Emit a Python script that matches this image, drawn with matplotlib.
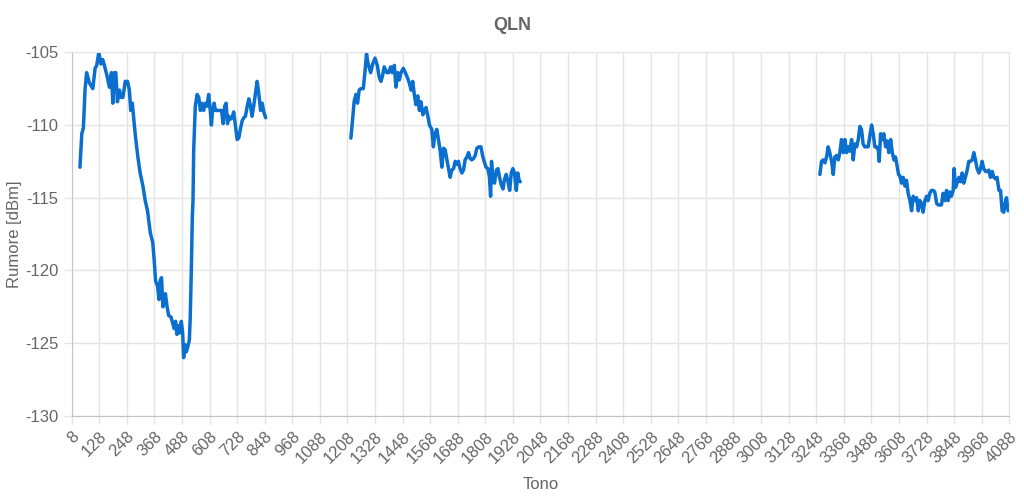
import numpy as np
import matplotlib
matplotlib.use("Agg")
import matplotlib.pyplot as plt

plt.rcParams['font.family'] = ['Liberation Sans', 'DejaVu Sans']
plt.rcParams['axes.unicode_minus'] = False

# dati: tre tratti separati (tono, rumore dBm)
tones_1 = [44, 52, 59, 66, 73, 85, 100, 110, 117, 126, 135, 143, 152, 163, 172, 181, 187,
           194, 200, 207, 216, 222, 231, 241, 251, 259, 265, 272, 280, 287, 296, 306, 318,
           328, 338, 350, 361, 367, 373, 382, 388, 393, 399, 405, 411, 416, 423, 430, 440,
           447, 454, 460, 466, 472, 478, 485, 491, 495, 501, 507, 514, 520, 524, 529, 533,
           536, 539, 546, 554, 561, 568, 575, 582, 590, 597, 604, 611, 616, 621, 628, 633,
           642, 651, 660, 667, 674, 680, 686, 692, 699, 706, 713, 721, 728, 735, 742, 750,
           757, 764, 772, 779, 786, 793, 800, 808, 815, 822, 830, 837, 844, 852]
qln_1 = [-112.9, -110.6, -110.2, -107.6, -106.4, -107.1, -107.5, -106.1, -105.9, -105.0,
         -105.8, -105.5, -106.0, -106.7, -107.4, -106.4, -108.5, -106.4, -106.4, -108.4,
         -107.6, -108.1, -108.1, -107.0, -107.0, -107.6, -109.0, -108.5, -109.9, -111.0,
         -112.2, -113.3, -114.2, -115.2, -115.9, -117.4, -118.1, -119.3, -120.7, -121.1,
         -122.0, -120.7, -120.5, -122.5, -121.8, -121.6, -122.5, -123.1, -123.2, -123.6,
         -124.0, -123.5, -124.4, -123.8, -124.3, -123.5, -124.3, -126.0, -125.1, -125.6,
         -125.2, -124.8, -123.2, -119.7, -116.3, -115.2, -111.7, -108.7, -107.9, -108.1,
         -109.0, -108.5, -109.0, -108.5, -108.7, -107.9, -109.0, -110.0, -109.0, -108.5,
         -109.0, -109.0, -109.0, -109.0, -109.9, -108.7, -108.5, -109.9, -109.4, -109.6,
         -109.5, -109.1, -110.1, -111.0, -110.9, -110.3, -109.7, -109.5, -109.4, -108.7,
         -108.2, -108.7, -109.4, -108.7, -107.8, -107.0, -107.8, -109.0, -108.5, -109.1,
         -109.5]

tones_2 = [1223, 1230, 1237, 1245, 1252, 1259, 1266, 1277, 1284, 1291, 1298, 1309, 1318,
           1328, 1338, 1346, 1354, 1361, 1368, 1379, 1387, 1396, 1403, 1412, 1419, 1427,
           1434, 1441, 1451, 1460, 1468, 1477, 1485, 1492, 1499, 1506, 1514, 1521, 1528,
           1536, 1543, 1550, 1558, 1565, 1575, 1582, 1589, 1597, 1604, 1611, 1619, 1626,
           1633, 1641, 1648, 1655, 1662, 1670, 1677, 1684, 1691, 1698, 1706, 1713, 1720,
           1728, 1735, 1742, 1749, 1757, 1764, 1771, 1780, 1789, 1796, 1803, 1811, 1819,
           1826, 1831, 1835, 1841, 1848, 1856, 1863, 1870, 1877, 1885, 1892, 1899, 1907,
           1914, 1921, 1928, 1935, 1943, 1949, 1955, 1960]
qln_2 = [-110.9, -109.7, -108.4, -107.9, -108.5, -107.6, -107.5, -107.5, -106.4, -105.1,
         -105.8, -106.4, -105.8, -105.4, -105.9, -106.7, -107.0, -106.6, -106.0, -106.4,
         -106.4, -106.0, -106.4, -105.9, -107.4, -106.4, -106.9, -106.4, -106.1, -106.4,
         -106.7, -107.1, -107.6, -107.0, -107.9, -108.6, -108.0, -109.0, -108.4, -109.3,
         -109.0, -108.8, -109.4, -110.0, -110.3, -111.5, -110.6, -110.3, -111.0, -111.7,
         -112.9, -111.6, -111.7, -112.4, -113.0, -113.6, -113.1, -113.0, -112.5, -112.7,
         -112.5, -113.0, -113.3, -113.1, -112.4, -112.2, -111.9, -112.3, -112.4, -112.3,
         -112.1, -111.6, -111.5, -111.5, -112.1, -112.5, -112.9, -113.0, -113.6, -114.9,
         -112.5, -113.7, -114.0, -113.1, -113.0, -113.6, -114.1, -114.4, -113.7, -113.4,
         -113.9, -114.5, -113.3, -113.0, -113.3, -114.5, -113.3, -113.8, -113.9]

tones_3 = [3264, 3271, 3278, 3286, 3293, 3300, 3307, 3315, 3322, 3329, 3337, 3344, 3351,
           3358, 3366, 3373, 3380, 3387, 3394, 3402, 3409, 3416, 3424, 3431, 3438, 3445,
           3452, 3459, 3467, 3474, 3481, 3489, 3496, 3503, 3510, 3518, 3522, 3528, 3535,
           3542, 3550, 3557, 3564, 3572, 3579, 3586, 3593, 3601, 3606, 3612, 3619, 3626,
           3634, 3641, 3648, 3656, 3663, 3670, 3678, 3685, 3692, 3699, 3706, 3713, 3721,
           3728, 3735, 3742, 3749, 3757, 3764, 3772, 3779, 3786, 3793, 3800, 3808, 3815,
           3822, 3829, 3836, 3844, 3848, 3854, 3861, 3869, 3876, 3883, 3890, 3897, 3905,
           3912, 3919, 3927, 3934, 3941, 3948, 3956, 3963, 3970, 3977, 3985, 3992, 3999,
           4006, 4014, 4021, 4028, 4035, 4043, 4050, 4057, 4064, 4072, 4076, 4083]
qln_3 = [-113.4, -112.5, -112.4, -112.6, -112.2, -111.5, -111.9, -112.5, -113.4, -112.2,
         -112.1, -112.4, -111.9, -111.0, -111.9, -111.0, -111.9, -111.5, -111.8, -111.0,
         -112.4, -111.3, -111.5, -111.0, -110.1, -110.3, -111.3, -111.5, -111.5, -111.5,
         -110.8, -110.0, -110.6, -111.5, -111.5, -111.7, -112.5, -110.6, -111.0, -110.6,
         -111.5, -111.1, -111.9, -111.0, -111.9, -112.4, -112.2, -112.9, -113.4, -113.5,
         -114.0, -113.6, -114.2, -113.8, -114.7, -115.2, -115.9, -114.9, -115.2, -115.0,
         -115.9, -115.2, -115.4, -116.0, -115.2, -114.9, -115.2, -114.7, -114.5, -114.5,
         -114.6, -115.4, -115.5, -115.5, -115.5, -114.7, -115.2, -114.5, -115.2, -114.6,
         -114.9, -114.5, -113.0, -114.3, -114.0, -113.6, -113.9, -113.3, -114.0, -113.6,
         -113.1, -112.5, -112.5, -112.4, -111.9, -112.4, -113.0, -113.3, -113.0, -112.5,
         -113.0, -113.2, -113.2, -113.1, -113.6, -113.2, -113.6, -113.7, -113.6, -114.5,
         -114.5, -115.9, -116.0, -115.2, -115.0, -115.9]

x_ticks = list(range(8, 4089, 120))

text_col = '#666666'
grid_col = '#e4e4e4'

fig = plt.figure(figsize=(10.24, 4.98), dpi=100)
ax = fig.add_axes([0.070, 0.165, 0.9156, 0.730])

for t, q in [(tones_1, qln_1), (tones_2, qln_2), (tones_3, qln_3)]:
    ax.plot(t, q, color='#0a6fce', lw=2.5, solid_joinstyle='round',
            solid_capstyle='round')

ax.set_xlim(8, 4088)
ax.set_ylim(-130, -105)
ax.set_xticks(x_ticks)
ax.set_yticks([-130, -125, -120, -115, -110, -105])
ax.set_xticklabels([str(v) for v in x_ticks], rotation=45, ha='right',
                   rotation_mode='anchor')
ax.tick_params(axis='both', colors=grid_col, labelcolor=text_col,
               labelsize=12, length=6, width=1)
ax.grid(True, color=grid_col, lw=1)
ax.set_axisbelow(True)
for s in ['top', 'right']:
    ax.spines[s].set_color(grid_col)
for s in ['left', 'bottom']:
    ax.spines[s].set_color('#c4c4c4')

ax.set_xlabel('Tono', fontsize=12, color=text_col, labelpad=8)
ax.set_ylabel('Rumore [dBm]', fontsize=12, color=text_col)
ax.yaxis.set_label_coords(-0.053, 0.5)
fig.text(0.5, 0.948, 'QLN', ha='center', va='center', fontsize=13,
         fontweight='bold', color=text_col)

fig.savefig('out.png', dpi=100)
